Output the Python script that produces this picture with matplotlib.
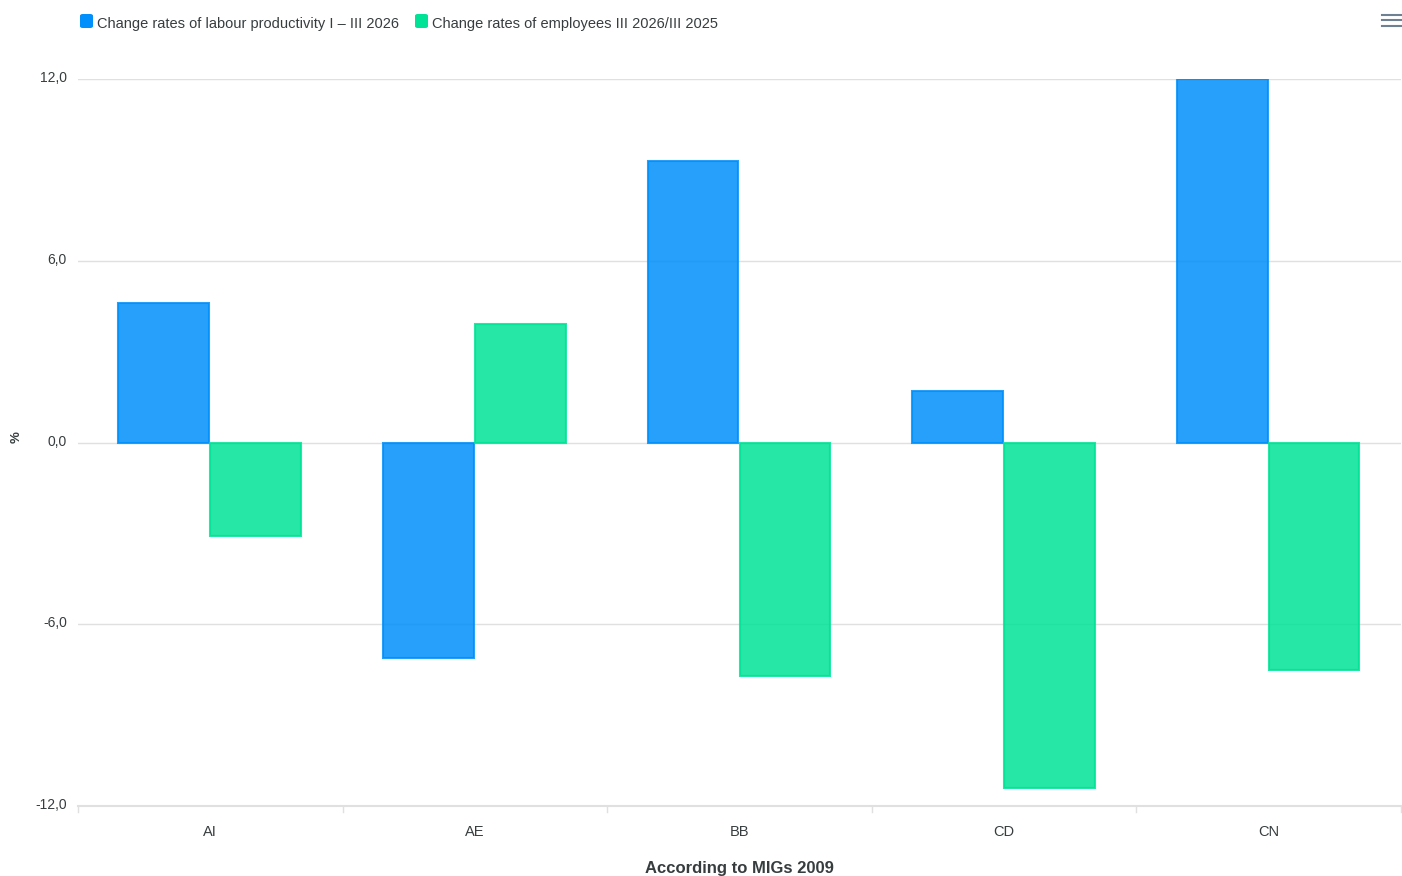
import numpy as np
import matplotlib
matplotlib.use('Agg')
from matplotlib import pyplot as plt
from matplotlib.patches import FancyBboxPatch
import matplotlib.transforms as mtransforms

plt.rcParams['font.family'] = ['Liberation Sans', 'DejaVu Sans']

# data
regions = ['AI', 'AE', 'BB', 'CD', 'CN']
productivity = [4.6, -7.1, 9.3, 1.7, 12.0]
employees = [-3.1, 3.9, -7.7, -11.4, -7.5]
series_names = ['Change rates of labour productivity I \u2013 III 2026',
                'Change rates of employees III 2026/III 2025']
yticks = [-12, -6, 0, 6, 12]
ytick_labels = ['-12,0', '-6,0', '0,0', '6,0', '12,0']

blue = '#008ffb'
green = '#00e396'

fig = plt.figure(figsize=(14.02, 8.76), dpi=100)
ax = fig.add_axes([78 / 1402, (876 - 806) / 876, 1323 / 1402, 727 / 876])

x = np.arange(len(regions))
w = 0.343
ax.bar(x - w / 2 - 0.004, productivity, w, color=blue, alpha=0.85, edgecolor=blue, linewidth=1.5, zorder=3)
ax.bar(x + w / 2, employees, w, color=green, alpha=0.85, edgecolor=green, linewidth=1.5, zorder=3)

ax.set_xlim(-0.5, len(regions) - 0.5)
ax.set_ylim(-12, 12)
ax.set_yticks(yticks)
ax.set_yticklabels(ytick_labels, fontsize=10, color='#373d3f')
ax.yaxis.grid(True, color='#e0e0e0', linewidth=1, zorder=0)
ax.tick_params(axis='y', length=0, pad=8)
shift = mtransforms.ScaledTranslation(0, 2.5 / 100, fig.dpi_scale_trans)
for lbl in ax.get_yticklabels():
    lbl.set_transform(lbl.get_transform() + shift)

ax.set_xticks(x)
ax.set_xticklabels(regions, fontsize=10.5, color='#373d3f')
ax.tick_params(axis='x', length=0, pad=14)
for b in np.arange(-0.5, len(regions), 1.0):
    ax.plot([b, b], [-12, -12.2], color='#e0e0e0', linewidth=1, clip_on=False)

for s in ['top', 'right', 'left']:
    ax.spines[s].set_visible(False)
ax.spines['bottom'].set_color('#e0e0e0')
ax.spines['bottom'].set_linewidth(1.5)

fig.text(17 / 1402, 1 - 437 / 876, '%', rotation=90, fontsize=9.5, fontweight='bold',
         color='#373d3f', ha='center', va='center')
fig.text(739 / 1402, 1 - 868 / 876, 'According to MIGs 2009', fontsize=12, fontweight='heavy',
         color='#373d3f', ha='center', va='center')

# legend
lx = [80, 415]
for px, name, c in zip(lx, series_names, [blue, green]):
    fig.patches.append(FancyBboxPatch((px / 1402, 1 - 28 / 876), 13 / 1402, 14 / 876,
                                      boxstyle='round,pad=0,rounding_size=0.002',
                                      transform=fig.transFigure, facecolor=c, edgecolor='none'))
    fig.text((px + 17) / 1402, 1 - 24 / 876, name, fontsize=10.5, color='#373d3f',
             ha='left', va='center')

# menu icon
for yy in [15, 20, 26]:
    fig.add_artist(plt.Line2D([1382 / 1402, 1401 / 1402], [1 - yy / 876] * 2,
                              color='#6e8192', linewidth=1.5, transform=fig.transFigure))

plt.savefig('out.png', dpi=100)
